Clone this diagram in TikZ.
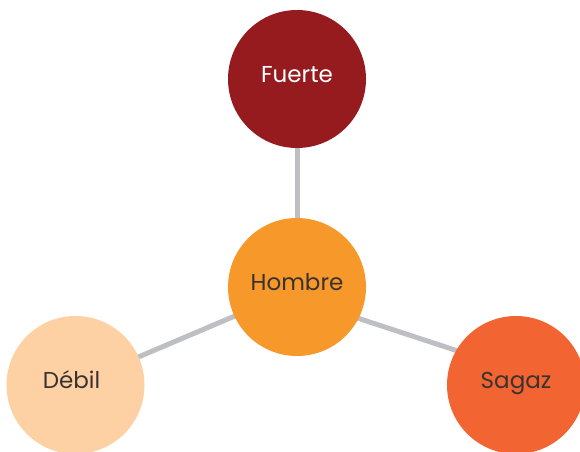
\documentclass[tikz,border=0pt]{standalone}
\usepackage{fontspec}
\setmainfont{Poppins}
\usetikzlibrary{backgrounds}

\definecolor{fuerteRed}{HTML}{951B1F}
\definecolor{hombreOrange}{HTML}{F7982A}
\definecolor{debilPeach}{HTML}{FDD1A3}
\definecolor{sagazOrange}{HTML}{F26532}
\definecolor{linkGray}{HTML}{BEBFC3}
\definecolor{textDark}{HTML}{3A3230}

\begin{document}
\begin{tikzpicture}[x=1pt,y=1pt,
  bubble/.style={circle,minimum size=138pt,inner sep=0pt,text=textDark,
    text height=6pt,text depth=0pt,font=\fontsize{23}{27}\selectfont},
  link/.style={draw=linkGray,line width=5pt,shorten <=-4pt,shorten >=-4pt}]
  \useasboundingbox (0,0) rectangle (580,451);
  \node[bubble,fill=fuerteRed,text=white] (fuerte) at (297,372) {Fuerte};
  \node[bubble,fill=hombreOrange] (hombre) at (297,164) {Hombre};
  \node[bubble,fill=debilPeach] (debil) at (75.5,66) {D\'ebil\hspace*{8pt}};
  \node[bubble,fill=sagazOrange] (sagaz) at (516,66) {Sagaz};
  \begin{scope}[on background layer]
    \draw[link] (fuerte.south) -- (hombre.north);
    \draw[link] (hombre.205) -- (debil.24);
    \draw[link] (hombre.333) -- (sagaz.150);
  \end{scope}
\end{tikzpicture}
\end{document}
